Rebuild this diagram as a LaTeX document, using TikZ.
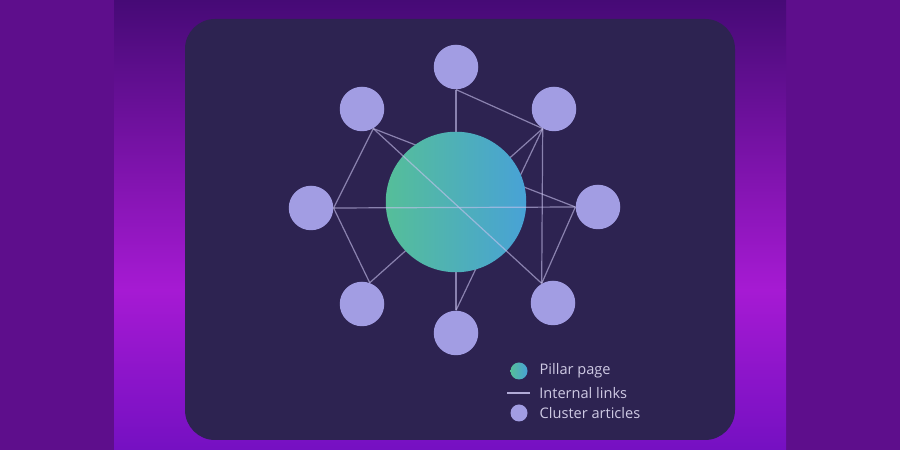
\documentclass[tikz,border=0pt]{standalone}
\usepackage{fontspec}
\newfontfamily\legendfont{Open Sans}
\usepackage{tikz}
\usetikzlibrary{positioning}
\usepackage{xcolor}

\definecolor{stripviolet}{HTML}{5E0E8C}
\definecolor{bandtop}{HTML}{460A76}
\definecolor{bandglow}{HTML}{A61AD3}
\definecolor{bandbottom}{HTML}{7510C2}
\definecolor{cardnavy}{HTML}{2D2351}
\definecolor{clusterlav}{HTML}{A29DE3}
\definecolor{pillargreen}{HTML}{55BE99}
\definecolor{pillarblue}{HTML}{48A2D6}
\definecolor{keygrey}{HTML}{CFCAE4}
\definecolor{linkcolour}{HTML}{C9C2EE}

\pgfdeclarelayer{back}
\pgfdeclarelayer{links}
\pgfsetlayers{back,links,main}

\begin{document}
\begin{tikzpicture}[x=0.2mm, y=-0.2mm]

\tikzstyle{cluster} = [
    circle,
    fill=clusterlav,
    minimum size=8.9mm,
    inner sep=0pt
];
\tikzstyle{pillar} = [
    circle,
    left color=pillargreen,
    right color=pillarblue,
    minimum size=28.1mm,
    inner sep=0pt
];
\tikzstyle{link} = [draw=linkcolour, draw opacity=0.6, line width=0.24mm];
\tikzstyle{keytext} = [text=keygrey, font=\legendfont\fontsize{8.3}{10}\selectfont, inner sep=0pt, anchor=west];

\useasboundingbox (0,0) rectangle (900,450);

\begin{pgfonlayer}{back}
\fill[stripviolet] (0,0) rectangle (900,450);
\shade[top color=bandtop, bottom color=bandglow] (114,0) rectangle (786,290);
\shade[top color=bandglow, bottom color=bandbottom] (114,290) rectangle (786,450);
\fill[cardnavy, rounded corners=6mm] (185,19) rectangle (735,440);
\end{pgfonlayer}

\node[pillar] (pillar) at (456,202) {};
\node[cluster] (top) at (456,67) {};
\node[cluster] (upleft) at (362,109) {};
\node[cluster] (upright) at (554,109) {};
\node[cluster] (left) at (311,208) {};
\node[cluster] (right) at (598,207) {};
\node[cluster] (lowleft) at (362,304) {};
\node[cluster] (lowright) at (553,303) {};
\node[cluster] (bottom) at (456,333) {};

% links hidden behind the pillar page
\begin{pgfonlayer}{links}
\draw[link] (top.south) -- (bottom.north);
\draw[link] (upleft.-60) -- (right.west);
\draw[link] (lowleft.70) -- (upright.-120);
\draw[link] (upright.-120) -- (bottom.north);
\end{pgfonlayer}

\draw[link] (top.south) -- (upright.-120);
\draw[link] (upleft.-60) -- (left.east);
\draw[link] (left.east) -- (lowleft.70);
\draw[link] (upright.-120) -- (lowright.120);
\draw[link] (right.west) -- (lowright.120);
\draw[link] (left.east) -- (right.west);
\draw[link] (upleft.-60) -- (lowright.120);

% legend
\node[pillar, minimum size=3.4mm] (pillarkey) at (519,371) {};
\node[keytext, right=2.3mm of pillarkey] (pillarlabel) {Pillar page};
\coordinate (linkstart) at (507,393);
\coordinate (linkend) at (530,393);
\draw[link, draw opacity=0.85] (linkstart) -- (linkend);
\node[keytext] (linklabel) at (539,393) {Internal links};
\node[cluster, minimum size=3.4mm] (clusterkey) at (519,413) {};
\node[keytext, right=2.3mm of clusterkey] (clusterlabel) {Cluster articles};

\end{tikzpicture}
\end{document}
